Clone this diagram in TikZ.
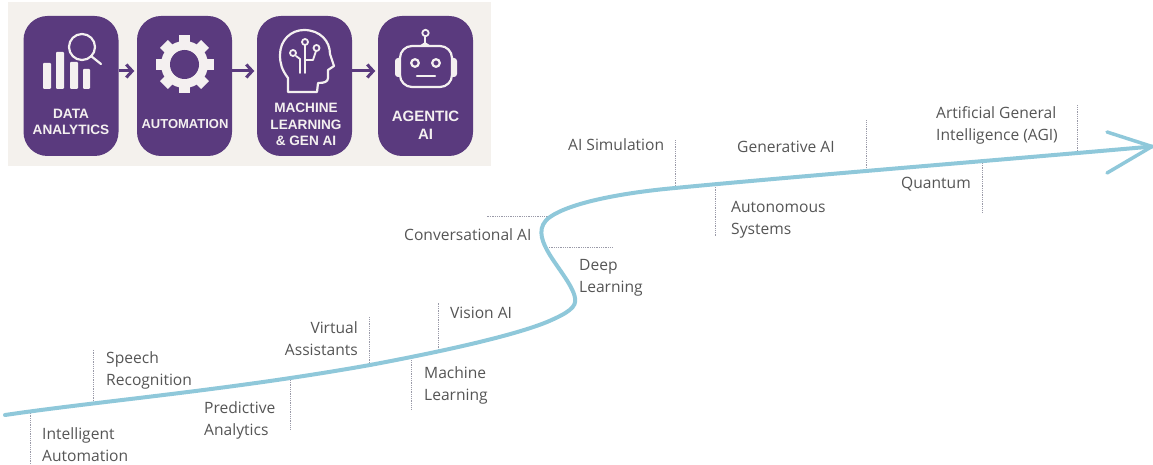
\documentclass[tikz,border=0pt]{standalone}
\usepackage{fontspec}
\setmainfont{Open Sans}
\newfontfamily\boxfont{Liberation Sans}[Scale=1]
\usetikzlibrary{arrows.meta}
\definecolor{bgc}{HTML}{F4F1ED}
\definecolor{purp}{HTML}{5A3A7E}
\definecolor{icon}{HTML}{F4F0F0}
\definecolor{curvec}{HTML}{8FC8DA}
\definecolor{txtc}{HTML}{555555}
\definecolor{dotc}{HTML}{9A9AA8}
\tikzset{
  stage/.style={draw=none,fill=purp,rounded corners=24pt,minimum width=95pt,minimum height=140pt,inner sep=0pt},
  stagetext/.style={font=\boxfont\bfseries\fontsize{13.6}{16.5}\selectfont,text=icon,align=center,inner sep=0pt},
  flow/.style={draw=purp,line width=3pt,shorten >=2.5pt,-{Straight Barb[length=6pt,width=13pt,line width=3pt]}},
  iconline/.style={draw=icon,line width=2.2pt,line cap=round,line join=round},
  dotline/.style={draw=dotc,line width=0.8pt,dash pattern=on 1pt off 0.8pt},
  lbl/.style={font=\fontsize{15.6}{22}\selectfont,text=txtc,align=left,inner sep=0pt,anchor=base west},
  lblr/.style={font=\fontsize{15.6}{22}\selectfont,text=txtc,align=right,inner sep=0pt,anchor=base east},
  trend/.style={draw=curvec,line width=4pt,line cap=round,line join=round},
}
\begin{document}
\begin{tikzpicture}[x=1pt,y=-1pt]
\useasboundingbox (0,0) rectangle (1153,465);
\fill[bgc] (8,2) rectangle (491,166);
% stages
\node[stage] (s1) at (71,86) {};
\node[stage] (s2) at (184.5,86) {};
\node[stage] (s3) at (304.5,86) {};
\node[stage] (s4) at (425.5,86) {};
\draw[flow] (s1.east) ++(0,-15) coordinate (a1) (a1) -- (a1 -| s2.west);
\draw[flow] (s2.east) ++(0,-15) coordinate (a2) (a2) -- (a2 -| s3.west);
\draw[flow] (s3.east) ++(0,-15) coordinate (a3) (a3) -- (a3 -| s4.west);
\node[stagetext] (t1) at (71,122) {DATA\\ANALYTICS};
\node[stagetext,font=\boxfont\bfseries\fontsize{13}{16}\selectfont] (t2) at (185,124) {AUTOMATION};
\node[stagetext] (t3) at (306,124.5) {MACHINE\\LEARNING\\\& GEN AI};
\node[stagetext,font=\boxfont\bfseries\fontsize{15}{18.5}\selectfont] (t4) at (425.5,125.5) {AGENTIC\\AI};
% analytics icon
\fill[icon,rounded corners=1pt] (43,63) rectangle (51,89);
\fill[icon,rounded corners=1pt] (56,52) rectangle (64,89);
\fill[icon,rounded corners=1pt] (70,62) rectangle (78,89);
\fill[icon,rounded corners=1pt] (83,69) rectangle (90,89);
\draw[iconline] (82,47) circle (13);
\draw[iconline] (91,56) -- (101,64);
% gear
\foreach \a in {0,45,...,315}{
  \fill[icon,rotate around={\a:(184.5,64.5)}] (179,35.5) rectangle (190,50);
}
\fill[icon] (184.5,64.5) circle (23.5);
\fill[purp] (184.5,64.5) circle (14.5);
% head
\draw[iconline] (288,92) -- (288,78) .. controls (282,70) and (280,64) .. (280,55)
  .. controls (280,40) and (291,30) .. (304,30)
  .. controls (320,30) and (330,41) .. (330,54)
  -- (334,66) -- (328,70) -- (328,78) .. controls (328,82) and (324,83) .. (318,83) -- (317,92) -- cycle;
\draw[iconline,line width=1.8pt] (305,45) -- (305,73);
\draw[iconline,line width=1.8pt] (305,60) -- (313,60) -- (316,51);
\draw[iconline,line width=1.8pt] (296,56) -- (300,59) -- (300,73);
\draw[iconline,line width=1.8pt] (305,42) circle (3);
\draw[iconline,line width=1.8pt] (316.5,48) circle (3);
\draw[iconline,line width=1.8pt] (293,53) circle (3);
% robot
\fill[icon,rounded corners=3pt] (395,58) rectangle (402,77);
\fill[icon,rounded corners=3pt] (450,58) rectangle (457,77);
\draw[iconline,fill=purp,rounded corners=12pt] (400,46) rectangle (452,87);
\draw[iconline,line width=1.8pt] (425,37) -- (425,44);
\fill[icon] (419,46) -- (425,42) -- (431,46) -- cycle;
\draw[iconline,line width=1.8pt] (425.5,33) circle (3.2);
\draw[iconline] (415,63) circle (3.8);
\draw[iconline] (436,63) circle (3.8);
\draw[iconline] (417,76) -- (435,76);
% dotted leaders
\foreach \n/\xa/\ya/\xb/\yb in {d1/30/411/30/465,d2/93/403/93/350,d3/290/380/290/430,d4/369/365/369/317,d5/411/360/411/410,d6/438/352/438/303,d7/552/216/487/216,d8/547/247/612/247,d9/675/188/675/140,d10/715/185/715/237,d11/866/170/866/120,d12/982/163/982/213,d13/1077/153/1077/105}{
  \coordinate (\n a) at (\xa,\ya);
  \coordinate (\n b) at (\xb,\yb);
  \draw[dotline] (\n a) -- (\n b);
}
% trend
\coordinate (p0) at (5,415);
\coordinate (tip) at (1152,146.5);
\coordinate (h1) at (1107,132);
\coordinate (h2) at (1107,173);
\draw[trend] (p0) .. controls (100,401) and (230,390) .. (370,365)
  .. controls (450,350) and (515,335) .. (547,322)
  .. controls (568,313) and (577,307) .. (575,298)
  .. controls (573,285) and (555,265) .. (547,250)
  .. controls (541,239) and (537,226) .. (550,217)
  .. controls (570,203) and (620,193) .. (675,188)
  .. controls (800,176) and (1000,160) .. (tip);
\draw[trend,line width=3.5pt] (h1) -- (tip) -- (h2);
% labels
\node[lbl] (l1) at (42,461) {Intelligent\\Automation};
\node[lbl] (l2) at (106,385) {Speech\\Recognition};
\node[lbl] (l3) at (204,435) {Predictive\\Analytics};
\node[lblr] (l4) at (358,355) {Virtual\\Assistants};
\node[lbl] (l5) at (424,400) {Machine\\Learning};
\node[lbl] (l6) at (450,318) {Vision AI};
\node[lbl] (l7) at (404,240) {Conversational AI};
\node[lbl] (l8) at (579,292) {Deep\\Learning};
\node[lbl] (l9) at (568,151) {AI Simulation};
\node[lbl] (l10) at (737,153) {Generative AI};
\node[lbl] (l11) at (731,234) {Autonomous\\Systems};
\node[lbl] (l12) at (901,189) {Quantum};
\node[lbl] (l13) at (936,141) {Artificial General\\Intelligence (AGI)};
\end{tikzpicture}
\end{document}
